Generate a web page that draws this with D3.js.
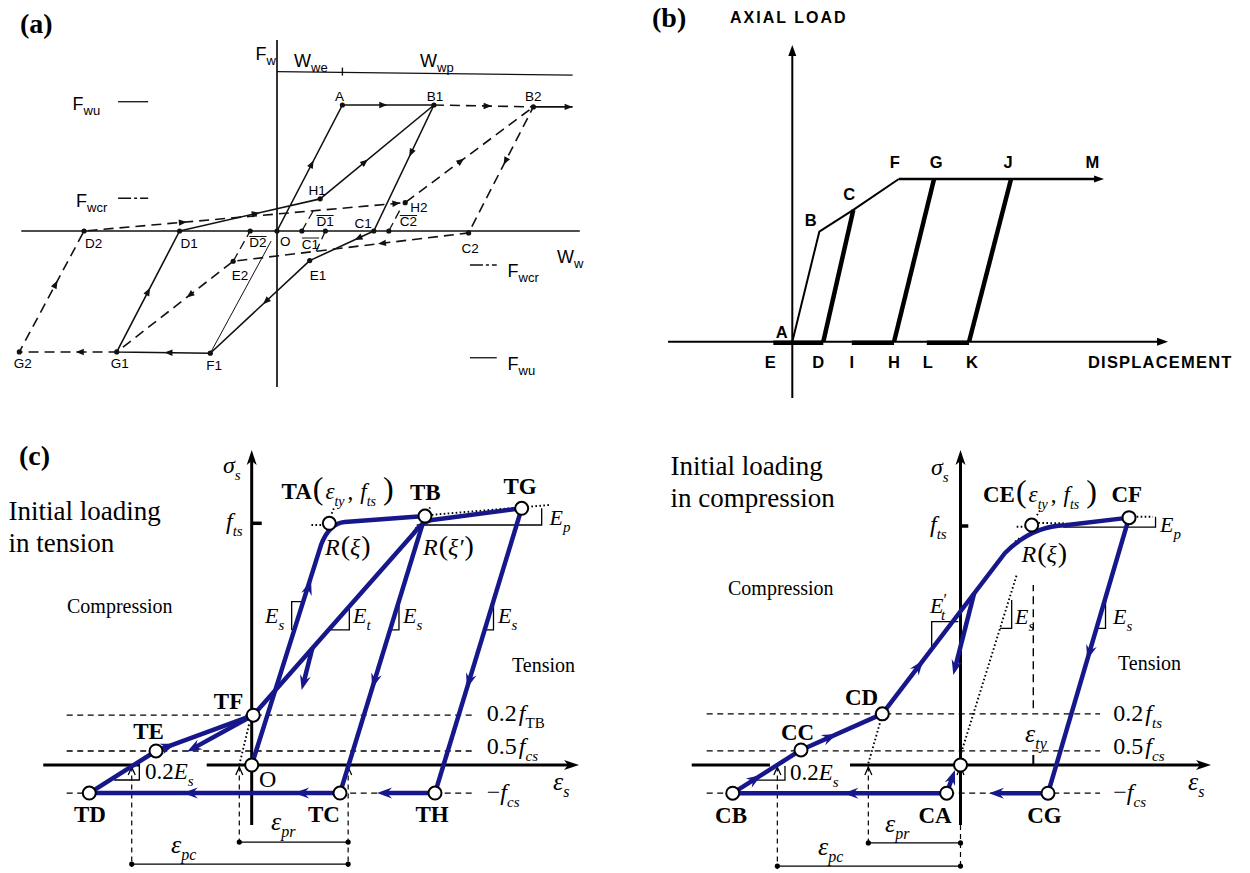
<!DOCTYPE html>
<html>
<head>
<meta charset="utf-8">
<title>Hysteresis models</title>
<script src="https://cdn.jsdelivr.net/npm/d3@7/dist/d3.min.js"></script>
<style>
  html, body { margin: 0; padding: 0; background: #fff; }
  svg { display: block; }
</style>
</head>
<body>
<svg id="fig" width="1250" height="873"></svg>
<script>
// ============ (a) infill wall: F_w vs w_w (w in units of w_we, F in units of F_wu) ============
const wallNodes = [
  { id: "O",  w: 0.00,  F: 0.00 },  { id: "A",  w: 1.00,  F: 1.00 },
  { id: "B1", w: 2.40,  F: 1.00 },  { id: "B2", w: 3.92,  F: 0.985 },
  { id: "C1", w: 1.48,  F: 0.00 },  { id: "C2", w: 2.93,  F: -0.015 },
  { id: "H1", w: 0.66,  F: 0.255 }, { id: "H2", w: 1.96,  F: 0.225 },
  { id: "E1", w: 0.50,  F: -0.235 },{ id: "E2", w: -0.67, F: -0.24 },
  { id: "F1", w: -1.02, F: -0.97 }, { id: "G1", w: -2.45, F: -0.96 },
  { id: "G2", w: -3.94, F: -0.96 }, { id: "D1", w: -1.49, F: 0.00 },
  { id: "D2", w: -2.95, F: 0.00 },  { id: "D2b", w: -0.41, F: 0.00 },
  { id: "C1b", w: 0.38, F: 0.00 },  { id: "D1b", w: 0.74,  F: 0.00 },
  { id: "C2b", w: 1.71, F: 0.00 }
];
const wallCycle1 = ["O", "A", "B1", "C1", "E1", "F1", "G1", "D1", "H1", "B1"];
const wallCycle2 = ["B1", "B2", "C2", "E2", "G1", "G2", "D2", "H2", "B2"];
const wallTip = { w: 4.52, F: 0.985 };
const wallThin = [[{ w: -1.02, F: -0.97 }, { w: -0.09, F: -0.08 }]];
const wallShortDashes = [
  [{ w: -0.67, F: -0.24 }, { w: -0.41, F: 0.00 }],
  [{ w: 0.38, F: 0.00 }, { w: 0.57, F: 0.175 }],
  [{ w: 0.74, F: 0.00 }, { w: 0.60, F: -0.16 }],
  [{ w: 1.71, F: 0.00 }, { w: 1.88, F: 0.167 }]
];
const wallArrows1 = [["O","A",0.56],["A","B1",0.49],["B1","C1",0.41],["C1","E1",0.30],["E1","F1",0.47],
                     ["F1","G1",0.49],["G1","D1",0.53],["D1","H1",0.57],["H1","B1",0.42]];
const wallArrows2 = [["B1","B2",0.58],["B2","C2",0.46],["C2","E2",0.385],["E2","G1",0.40],["G1","G2",0.42],
                     ["G2","D2",0.59],["D2","H2",0.32],["D2","H2",0.985],["H2","B2",0.46]];
const wallLabels = ["A","B1","B2","H1","H2","C1","C2","D1","D2","O","E1","E2","F1","G1","G2"];
const wallBarLabels = [["D1b","D1"],["C1b","C1"],["D2b","D2"],["C2b","C2"]];
const wallLevels = [
  { sub: "wu",  F: 1.026,  side: "left" },
  { sub: "wcr", F: 0.26,   side: "left" },
  { sub: "wcr", F: -0.27,  side: "right" },
  { sub: "wu",  F: -1.006, side: "right" }
];
const wallScaleBar = { w0: 0, w1: 4.52, F0: 1.265, F1: 1.237, tick: 1.0 };

// ============ (b) axial load vs displacement (load in units of the plateau) ============
const tubeNodes = [
  { id: "A", d: 0.00, P: 0.00 }, { id: "B", d: 1.08, P: 0.676 }, { id: "C", d: 2.44, P: 0.81 },
  { id: "F", d: 4.26, P: 1.00 }, { id: "G", d: 5.67, P: 1.00 }, { id: "J", d: 8.75, P: 1.00 },
  { id: "M", d: 12.0, P: 1.00 },
  { id: "E", d: -0.76, P: 0 }, { id: "D", d: 1.24, P: 0 }, { id: "I", d: 2.38, P: 0 },
  { id: "H", d: 4.07, P: 0 },  { id: "L", d: 5.38, P: 0 }, { id: "K", d: 7.07, P: 0 }
];
const tubeEnvelope = ["A", "B", "C", "F", "G", "J", "M"];
const tubeUnloading = [["D", "C"], ["H", "G"], ["K", "J"]];
const tubeSlack = [["E", "D"], ["I", "H"], ["L", "K"]];
const tubeTopLabels = ["A", "B", "C", "F", "G", "J", "M"];
const tubeBottomLabels = ["E", "D", "I", "H", "L", "K"];
const tubeTip = 12.47;

// ============ (c) steel bar: sigma_s vs eps_s (eps in units of eps_ty, sigma in units of f_ts) ============
const tensionNodes = [
  { id: "O",  e: 0.00,   s: 0.00 },  { id: "TA", e: 1.00,  s: 1.00 },
  { id: "TB", e: 2.233,  s: 1.030 }, { id: "TG", e: 3.479, s: 1.062 },
  { id: "TC", e: 1.138,  s: -0.116 },{ id: "TH", e: 2.362, s: -0.116 },
  { id: "TD", e: -2.093, s: -0.116 },{ id: "TE", e: -1.233, s: 0.058 },
  { id: "TF", e: 0.02,   s: 0.206 }
];
const tensionLoading   = [[0, 0], [0.893, 0.910], [1.0, 1.0, "c"], [1.2, 1.005], [2.233, 1.030]];
const tensionReloading = [[0.02, 0.206], [2.092, 0.960], [2.182, 1.003, "c"], [2.323, 1.014], [3.479, 1.062]];
const tensionSegments  = [["TB","TC"], ["TG","TH"], ["TC","TD"], ["TD","TE"], ["TE","TF"]];
const tensionSpurs = [
  [[2.362, -0.116], [1.615, -0.116]],
  [[0.02, 0.206], [-0.834, 0.055]],
  [[0.782, 0.484], [0.644, 0.310]]
];
const tensionArrows = [[[0,0],[1,1],0.765], ["TB","TC",0.622], ["TG","TH",0.632], ["TE","TF",0.2],
                       ["TC","TD",0.183], ["TC","TD",0.627]];
const tensionLevels = [0.206, 0.058, -0.116];
const tensionDotted = [
  [[0.77, 0.993], [0.92, 0.993]], [[1.03, 1.04], [1.06, 1.062]],
  [[2.32, 1.035], [3.844, 1.076]], [[2.27, 1.045], [2.31, 1.075]],
  [[2.05, 0.95], [2.14, 0.99]], [[-0.16, 0.0], [-0.031, 0.172]]
];
const tensionSlopes = [
  [[0.644, 0.676], [0.515, 0.676], [0.515, 0.559]],
  [[1.258, 0.662], [1.258, 0.559], [0.987, 0.559]],
  [[1.898, 0.671], [1.898, 0.559], [1.789, 0.559]],
  [[3.116, 0.671], [3.116, 0.559], [3.007, 0.559]],
  [[-1.773, -0.062], [-1.448, -0.062], [-1.448, -0.004]],
  [[2.126, 0.993], [3.737, 0.993], [3.737, 1.062]]
];
const tensionPlastic = { pr: [-0.160, 1.243], pc: [-1.546, 1.243] };

const compressionNodes = [
  { id: "O",  e: 0.00,   s: 0.00 },  { id: "CE", e: 0.978,  s: 1.004 },
  { id: "CF", e: 2.315,  s: 1.035 }, { id: "CG", e: 1.202,  s: -0.118 },
  { id: "CA", e: -0.190, s: -0.118 },{ id: "CB", e: -3.129, s: -0.118 },
  { id: "CC", e: -2.191, s: 0.063 }, { id: "CD", e: -1.074, s: 0.214 }
];
const compressionLoading = [[-1.074, 0.214], [0.611, 0.887], [0.982, 1.0, "c"], [1.435, 1.003], [2.315, 1.035]];
const compressionSegments = [["CF","CG"], ["CA","CB"], ["CB","CC"], ["CC","CD"]];
const compressionSpurs = [
  [[-0.190, -0.118], [-0.076, -0.021]],
  [[1.202, -0.118], [0.391, -0.118]],
  [[0.187, 0.718], [-0.099, 0.377]]
];
const compressionArrows = [["CB","CC",0.42], ["CC","CD",0.44], [[-1.074,0.214],[0.611,0.887],0.334],
                           ["CF","CG",0.516], ["CA","CB",0.483]];
const compressionLevels = [0.214, 0.059, -0.118];
const compressionDotted = [
  [[-0.007, 0.035], [0.772, 0.795]], [[-1.266, 0.007], [-1.082, 0.202]],
  [[0.772, 0.997], [0.89, 0.997]],   [[1.07, 1.013], [1.459, 1.011]],
  [[2.42, 1.039], [2.644, 1.039]],   [[0.749, 0.934], [0.817, 0.950]],
  [[1.05, 1.045], [1.09, 1.065]]
];
const compressionSlopes = [
  [[-0.030, 0.600], [-0.396, 0.600], [-0.396, 0.488]],
  [[0.703, 0.690], [0.703, 0.572], [0.543, 0.572]],
  [[1.992, 0.690], [1.992, 0.572], [1.875, 0.572]],
  [[-2.823, -0.063], [-2.411, -0.063], [-2.411, -0.004]],
  [[1.412, 0.995], [2.679, 0.995], [2.679, 1.039]]
];
const compressionPlastic = { pr: [-1.266, 0.0], pc: [-2.516, 0.0] };
const compressionYield = 1.0;

// ---------------------------------------------------------------------------------------
const SERIF = "'Liberation Serif','Times New Roman',Times,serif";
const SANS = "'Liberation Sans',Arial,Helvetica,sans-serif";
const NAVY = "#17178c";
const svg = d3.select("#fig");
const lineGen = d3.line();

const TRI = "M0,0 L-8,-3.2 L-8,3.2 Z";
const STEALTH = "M0,0 L-15,-5.5 L-10,0 L-15,5.5 Z";
const AXHEAD = "M0,0 L-15,-5 L-11,0 L-15,5 Z";
const FILLHEAD = "M0,0 L-11,-4 L-11,4 Z";
const CHEV = "M-8,-3.5 L0,0 L-8,3.5";

function poly(g, pts, attrs) {
  const p = g.append("path").attr("d", lineGen(pts)).attr("fill", "none");
  Object.entries(attrs).forEach(([k, v]) => p.attr(k, v));
  return p;
}
function head(g, x, y, ang, shape, fill, stroke) {
  const p = g.append("path").attr("d", shape)
    .attr("transform", `translate(${x},${y}) rotate(${ang})`);
  if (stroke) p.attr("fill", "none").attr("stroke", stroke).attr("stroke-width", 1.3);
  else p.attr("fill", fill);
  return p;
}
function headOn(g, p1, p2, t, shape, fill) {
  const x = p1[0] + (p2[0] - p1[0]) * t, y = p1[1] + (p2[1] - p1[1]) * t;
  const ang = Math.atan2(p2[1] - p1[1], p2[0] - p1[0]) * 180 / Math.PI;
  return head(g, x, y, ang, shape, fill);
}
function rich(g, x, y, parts, o = {}) {
  const size = o.size || 20;
  const t = g.append("text").attr("x", x).attr("y", y)
    .attr("font-family", o.family || SERIF).attr("font-size", size)
    .attr("text-anchor", o.anchor || "start").attr("fill", "#000");
  if (o.weight) t.attr("font-weight", o.weight);
  if (o.spacing) t.attr("letter-spacing", o.spacing);
  let off = 0;
  parts.forEach(p => {
    if (typeof p === "string") p = { t: p };
    const s = t.append("tspan").text(p.t);
    const target = p.sub ? Math.round(size * (o.subDrop || 0.3)) : p.sup ? -Math.round(size * 0.38) : 0;
    if (target !== off) { s.attr("dy", target - off); off = target; }
    if (p.sub || p.sup) s.attr("font-size", p.size || Math.round(size * 0.66));
    else if (p.size) s.attr("font-size", p.size);
    if (p.i) s.attr("font-style", "italic");
    if (p.b) s.attr("font-weight", "bold");
    if (p.dx) s.attr("dx", p.dx);
  });
  return t;
}
function bentPath(pts, sx, sy) {
  const p = d3.path();
  let ctrl = null;
  pts.forEach((d, i) => {
    const x = sx(d[0]), y = sy(d[1]);
    if (i === 0) p.moveTo(x, y);
    else if (d[2] === "c") ctrl = [x, y];
    else if (ctrl) { p.quadraticCurveTo(ctrl[0], ctrl[1], x, y); ctrl = null; }
    else p.lineTo(x, y);
  });
  return p.toString();
}

// ================================ panel (a) ================================
{
  const x = d3.scaleLinear().domain([0, 1]).range([277, 342.4]);
  const y = d3.scaleLinear().domain([0, 1]).range([231, 105]);
  const g = svg.append("g");
  const N = Object.fromEntries(wallNodes.map(d => [d.id, [x(d.w), y(d.F)]]));
  const P = d => [x(d.w), y(d.F)];
  const ink = "#111";

  rich(g, 20, 33, [{ t: "(a)" }], { size: 28, weight: "bold" });

  // axes
  poly(g, [[x(-3.91), y(0)], [x(4.63), y(0)]], { stroke: ink, "stroke-width": 1.7 });
  poly(g, [[x(0), y(-1.238)], [x(0), y(1.516)]], { stroke: ink, "stroke-width": 1.7 });
  // displacement scale bar
  poly(g, [[x(wallScaleBar.w0), y(wallScaleBar.F0)], [x(wallScaleBar.w1), y(wallScaleBar.F1)]], { stroke: ink, "stroke-width": 1.4 });
  poly(g, [[x(wallScaleBar.tick), y(wallScaleBar.F0) - 4], [x(wallScaleBar.tick), y(wallScaleBar.F0) + 4]], { stroke: ink, "stroke-width": 1.4 });

  const sf = { family: SANS, size: 18, subDrop: 0.28 };
  rich(g, 255.5, 60, [{ t: "F" }, { t: "w", sub: true, size: 13 }], sf);
  rich(g, 294, 66.5, [{ t: "W" }, { t: "we", sub: true, size: 13 }], sf);
  rich(g, 420, 66.5, [{ t: "W" }, { t: "wp", sub: true, size: 13 }], sf);
  rich(g, 557, 263, [{ t: "W" }, { t: "w", sub: true, size: 13 }], sf);

  // force levels
  wallLevels.forEach(L => {
    const yy = y(L.F);
    const dash = L.sub === "wu" ? null : "13,3,3,3";
    if (L.side === "left") {
      const p = poly(g, [[x(-2.43), yy], [x(-1.97), yy]], { stroke: ink, "stroke-width": 1.3 });
      if (dash) p.attr("stroke-dasharray", dash);
      rich(g, L.sub === "wu" ? 72.5 : 76, yy + 8.5, [{ t: "F" }, { t: L.sub, sub: true, size: 13 }], sf);
    } else {
      const p = poly(g, [[x(2.95), yy], [x(3.36), yy]], { stroke: ink, "stroke-width": 1.3 });
      if (dash) p.attr("stroke-dasharray", dash);
      rich(g, 507.5, yy + 12, [{ t: "F" }, { t: L.sub, sub: true, size: 13 }], sf);
    }
  });

  // first cycle (solid) and second cycle (dashed)
  poly(g, wallCycle1.map(id => N[id]), { stroke: ink, "stroke-width": 1.6, "stroke-linejoin": "round" });
  poly(g, wallCycle2.map(id => N[id]), { stroke: ink, "stroke-width": 1.6, "stroke-dasharray": "10,6" });
  poly(g, [N.B2, P(wallTip)], { stroke: ink, "stroke-width": 1.6 });
  head(g, x(wallTip.w), y(wallTip.F), 0, TRI, ink);
  wallThin.forEach(s => poly(g, s.map(P), { stroke: ink, "stroke-width": 1.0 }));
  wallShortDashes.forEach(s => poly(g, s.map(P), { stroke: ink, "stroke-width": 1.3, "stroke-dasharray": "9,5" }));
  wallArrows1.concat(wallArrows2).forEach(([a, b, t]) => headOn(g, N[a], N[b], t, TRI, ink));

  // node dots
  wallNodes.forEach(d => g.append("circle").attr("cx", x(d.w)).attr("cy", y(d.F)).attr("r", 2.6).attr("fill", ink));

  // node labels
  const off = { A: [-3, -4, "middle"], B1: [1, -4, "middle"], B2: [0, -6, "middle"], H1: [-3, -4, "middle"],
    H2: [5, 9.5, "start"], C1: [-2, -3, "end"], C2: [-7, 20, "start"], D1: [1, 16.5, "start"],
    D2: [1, 16.5, "start"], O: [3, 15, "start"], E1: [0, 19.5, "start"], E2: [-1.5, 19, "start"],
    F1: [-4, 17, "start"], G1: [-6, 16, "start"], G2: [-5.5, 16, "start"] };
  wallLabels.forEach(id => {
    const [dx, dy, a] = off[id];
    rich(g, N[id][0] + dx, N[id][1] + dy, [id], { family: SANS, size: 13.5, anchor: a });
  });
  const barOff = { D1b: [-9, -5], C1b: [0, 17.5], D2b: [-1, 16], C2b: [11, -5] };
  wallBarLabels.forEach(([id, txt]) => {
    const [dx, dy] = barOff[id];
    const t = rich(g, N[id][0] + dx, N[id][1] + dy, [txt], { family: SANS, size: 13.5 });
    const bb = t.node().getBBox();
    poly(g, [[bb.x, bb.y + 1.5], [bb.x + bb.width, bb.y + 1.5]], { stroke: ink, "stroke-width": 1 });
  });
}

// ================================ panel (b) ================================
{
  const x = d3.scaleLinear().domain([0, 1]).range([792.3, 817.3]);
  const y = d3.scaleLinear().domain([0, 1]).range([341.7, 179]);
  const g = svg.append("g");
  const N = Object.fromEntries(tubeNodes.map(d => [d.id, [x(d.d), y(d.P)]]));
  const ink = "#000";

  rich(g, 652, 27, [{ t: "(b)" }], { size: 28, weight: "bold" });
  rich(g, 730, 23, ["AXIAL LOAD"], { family: SANS, size: 16, weight: "bold", spacing: 2 });
  rich(g, 1088, 368, ["DISPLACEMENT"], { family: SANS, size: 16.5, weight: "bold", spacing: 1.2 });

  poly(g, [[x(-4.97), y(0)], [x(15.03) - 8, y(0)]], { stroke: ink, "stroke-width": 2 });
  head(g, x(15.03), y(0), 0, FILLHEAD, ink);
  poly(g, [[x(0), y(-0.346)], [x(0), y(1.824) + 8]], { stroke: ink, "stroke-width": 2 });
  head(g, x(0), y(1.824), -90, FILLHEAD, ink);

  poly(g, tubeEnvelope.slice(0, 4).map(id => N[id]), { stroke: ink, "stroke-width": 2, "stroke-linejoin": "round" });
  poly(g, [N.F, [x(tubeTip) - 6, y(1)]], { stroke: ink, "stroke-width": 2.6 });
  head(g, x(tubeTip), y(1), 0, "M0,0 L-10,-3.5 L-10,3.5 Z", ink);
  tubeUnloading.forEach(([a, b]) => poly(g, [N[a], N[b]], { stroke: ink, "stroke-width": 4.5 }));
  tubeSlack.forEach(([a, b]) => poly(g, [[N[a][0], N[a][1] + 1], [N[b][0], N[b][1] + 1]], { stroke: ink, "stroke-width": 4.5 }));

  const top = { A: [-10.5, -4], B: [-8.5, -6], C: [-4, -10], F: [-4, -11.5], G: [2, -11.5], J: [-3, -11.5], M: [0, -11.5] };
  tubeTopLabels.forEach(id => rich(g, N[id][0] + top[id][0], N[id][1] + top[id][1], [id],
    { family: SANS, size: 16.5, weight: "bold", anchor: "middle" }));
  const bot = { E: -3, D: -5, I: 0, H: 0, L: 1, K: 3 };
  tubeBottomLabels.forEach(id => rich(g, N[id][0] + bot[id], N[id][1] + 26.5, [id],
    { family: SANS, size: 16.5, weight: "bold", anchor: "middle" }));
}

// ========================= shared drawing for (c) ==========================
function steelPanel(cfg) {
  const { x, y, g, nodes } = cfg;
  const N = Object.fromEntries(nodes.map(d => [d.id, [x(d.e), y(d.s)]]));
  const P = d => [x(d[0]), y(d[1])];
  const pt = d => (typeof d === "string" ? N[d] : P(d));

  // level lines
  cfg.levels.forEach(s => poly(g, [[x(cfg.levelSpan[0]), y(s)], [x(cfg.levelSpan[1]), y(s)]],
    { stroke: "#000", "stroke-width": 1.3, "stroke-dasharray": "6,4.5" }));

  // plastic strain dimensions
  const dimTop = -0.006;
  const pr = cfg.plastic.pr, pc = cfg.plastic.pc;
  const verts = [[pc[0], cfg.dimY[1] - 0.012], [pr[0], cfg.dimY[0] - 0.012], [pr[1], cfg.dimY[1] - 0.012]];
  verts.forEach(([e, sLow]) => {
    const top = e === 0 ? cfg.axisV[0] : dimTop;
    poly(g, [[x(e), y(top)], [x(e), y(sLow)]], { stroke: "#000", "stroke-width": 1.2, "stroke-dasharray": "5,4" });
  });
  cfg.chevrons.forEach(e => head(g, x(e), y(0) + 2, -90, CHEV, null, "#000"));
  [[pr, cfg.dimY[0]], [pc, cfg.dimY[1]]].forEach(([r, s]) => {
    poly(g, [[x(r[0]), y(s)], [x(r[1]), y(s)]], { stroke: "#000", "stroke-width": 1.4 });
    r.forEach(e => g.append("circle").attr("cx", x(e)).attr("cy", y(s)).attr("r", 2.6).attr("fill", "#000"));
  });

  // axes
  cfg.axisH.forEach(([a, b], i) => poly(g, [[x(a), y(0)], [x(b) - (i === cfg.axisH.length - 1 ? 6 : 0), y(0)]],
    { stroke: "#000", "stroke-width": 3 }));
  head(g, x(cfg.axisH[cfg.axisH.length - 1][1]), y(0), 0, AXHEAD, "#000");
  poly(g, [[x(0), y(cfg.axisV[0])], [x(0), y(cfg.axisV[1]) + 6]], { stroke: "#000", "stroke-width": 3 });
  head(g, x(0), y(cfg.axisV[1]), -90, AXHEAD, "#000");
  poly(g, [[x(0), y(1)], [x(cfg.tick), y(1)]], { stroke: "#000", "stroke-width": 3.5 });

  // dotted construction lines and slope brackets
  cfg.dotted.forEach(s => poly(g, s.map(P), { stroke: "#000", "stroke-width": 1.9, "stroke-dasharray": "1.6,2.4" }));
  cfg.slopes.forEach(s => poly(g, s.map(P), { stroke: "#000", "stroke-width": 1.3 }));
  if (cfg.extra) cfg.extra(P);

  // stress-strain path
  const blue = { stroke: NAVY, "stroke-width": 4.5, "stroke-linejoin": "round", "stroke-linecap": "butt" };
  cfg.curves.forEach(c => g.append("path").attr("d", bentPath(c, x, y)).attr("fill", "none")
    .attr("stroke", NAVY).attr("stroke-width", 4.5).attr("stroke-linejoin", "round"));
  cfg.segments.forEach(([a, b]) => poly(g, [N[a], N[b]], blue));
  cfg.spurs.forEach(s => {
    const a = P(s[0]), b = P(s[1]);
    const L = Math.hypot(b[0] - a[0], b[1] - a[1]);
    const k = (L - 8) / L;
    poly(g, [a, [a[0] + (b[0] - a[0]) * k, a[1] + (b[1] - a[1]) * k]], blue);
    headOn(g, a, b, 1, STEALTH, NAVY);
  });
  cfg.arrows.forEach(([a, b, t]) => headOn(g, pt(a), pt(b), t, STEALTH, NAVY));

  // state points
  nodes.forEach(d => g.append("circle").attr("cx", x(d.e)).attr("cy", y(d.s)).attr("r", 6.5)
    .attr("fill", "#fff").attr("stroke", "#000").attr("stroke-width", 2));
  return N;
}

const bold = (g, xx, yy, t, a) => rich(g, xx, yy, [t], { size: 23, weight: "bold", anchor: a || "middle" });
const eps = sub => [{ t: "ε", i: true, size: 26 }, { t: sub, sub: true, i: true, size: 16 }];

// ================================ panel (c), left ================================
{
  const x = d3.scaleLinear().domain([0, 1]).range([251.7, 329.3]);
  const y = d3.scaleLinear().domain([0, 1]).range([765, 523.3]);
  const g = svg.append("g");
  steelPanel({
    x, y, g, nodes: tensionNodes,
    levels: tensionLevels, levelSpan: [-2.384, 2.856],
    plastic: tensionPlastic, dimY: [-0.319, -0.410], chevrons: [-1.546, -0.160, 1.243],
    axisH: [[-2.686, -1.439], [-0.580, 4.218]], axisV: [-0.248, 1.303], tick: 0.129,
    dotted: tensionDotted, slopes: tensionSlopes,
    curves: [tensionLoading, tensionReloading], segments: tensionSegments,
    spurs: tensionSpurs, arrows: tensionArrows
  });

  rich(g, 19, 465, [{ t: "(c)" }], { size: 28, weight: "bold" });
  rich(g, 8.5, 520, ["Initial loading"], { size: 27 });
  rich(g, 8.5, 552, ["in tension"], { size: 27 });
  rich(g, 67, 612.5, ["Compression"], { size: 20 });
  rich(g, 512, 671.5, ["Tension"], { size: 20 });
  rich(g, 223, 473, [{ t: "σ", i: true }, { t: "s", sub: true, i: true, size: 15 }], { size: 24 });
  rich(g, 226, 529, [{ t: "f", i: true }, { t: "ts", sub: true, i: true, size: 15 }], { size: 24 });

  rich(g, 281.5, 498.5, [{ t: "TA", b: true }, { t: "(", size: 32, dx: 1 }, { t: "ε", i: true, dx: 2 },
    { t: "ty", sub: true, i: true, size: 14 }, { t: ",", dx: 3 }, { t: "f", i: true, dx: 7 },
    { t: "ts", sub: true, i: true, size: 14 }, { t: ")", size: 32, dx: 7 }], { size: 23 });
  bold(g, 410, 500, "TB", "start");
  bold(g, 503.5, 493.5, "TG", "start");
  rich(g, 325, 555, [{ t: "R", i: true }, { t: "(", size: 28, dx: 1 }, { t: "ξ", i: true }, { t: ")", size: 28, dx: 1 }], { size: 24 });
  rich(g, 423, 555, [{ t: "R", i: true }, { t: "(", size: 28, dx: 1 }, { t: "ξ′", i: true }, { t: ")", size: 28, dx: 1 }], { size: 24 });
  rich(g, 549.5, 525, [{ t: "E", i: true }, { t: "p", sub: true, i: true, size: 15 }], { size: 22 });

  [[265, "s"], [353, "t"], [403, "s"], [498, "s"]].forEach(([xx, s]) =>
    rich(g, xx, 623, [{ t: "E", i: true }, { t: s, sub: true, i: true, size: 15 }], { size: 22 }));

  bold(g, 228.5, 708.5, "TF");
  bold(g, 148.5, 738.5, "TE");
  rich(g, 145, 779, ["0.2", { t: "E", i: true }, { t: "s", sub: true, i: true, size: 15 }], { size: 23 });
  rich(g, 259, 787, ["O"], { size: 24 });
  bold(g, 90, 822, "TD");
  bold(g, 324, 822, "TC");
  bold(g, 432, 822, "TH");

  const lx = x(3.03);
  rich(g, lx, 721, ["0.2", { t: "f", i: true, dx: 2 }, { t: "TB", sub: true, size: 15 }], { size: 24 });
  rich(g, lx, 754, ["0.5", { t: "f", i: true, dx: 2 }, { t: "cs", sub: true, i: true, size: 15 }], { size: 24 });
  rich(g, lx, 800, ["−", { t: "f", i: true }, { t: "cs", sub: true, i: true, size: 15 }], { size: 24 });
  rich(g, 553, 790, eps("s"), { size: 24 });
  rich(g, 271, 830, eps("pr"), { size: 24 });
  rich(g, 171, 853, eps("pc"), { size: 24 });
}

// ================================ panel (c), right ================================
{
  const x = d3.scaleLinear().domain([0, 1]).range([960.5, 1033.3]);
  const y = d3.scaleLinear().domain([0, 1]).range([765, 526]);
  const g = svg.append("g");
  steelPanel({
    x, y, g, nodes: compressionNodes,
    levels: compressionLevels, levelSpan: [-3.486, 1.916],
    plastic: compressionPlastic, dimY: [-0.326, -0.423], chevrons: [-2.516, -1.266, 0],
    axisH: [[-3.692, -2.617], [-1.518, 3.441]], axisV: [-0.251, 1.318], tick: 0.107,
    dotted: compressionDotted, slopes: compressionSlopes,
    curves: [compressionLoading], segments: compressionSegments,
    spurs: compressionSpurs, arrows: compressionArrows,
    extra: P => {
      poly(g, [P([compressionYield, 0.237]), P([compressionYield, 0.753])],
        { stroke: "#000", "stroke-width": 1.4, "stroke-dasharray": "8,5" });
      poly(g, [P([compressionYield, 0]), P([compressionYield, 0.042])], { stroke: "#000", "stroke-width": 2 });
    }
  });

  rich(g, 670.5, 475, ["Initial loading"], { size: 27 });
  rich(g, 670.5, 507, ["in compression"], { size: 27 });
  rich(g, 728, 595, ["Compression"], { size: 20 });
  rich(g, 1118, 670, ["Tension"], { size: 20 });
  rich(g, 931, 475, [{ t: "σ", i: true }, { t: "s", sub: true, i: true, size: 15 }], { size: 24 });
  rich(g, 930, 532, [{ t: "f", i: true }, { t: "ts", sub: true, i: true, size: 15 }], { size: 24 });

  rich(g, 983, 502, [{ t: "CE", b: true }, { t: "(", size: 32, dx: 1 }, { t: "ε", i: true, dx: 2 },
    { t: "ty", sub: true, i: true, size: 14 }, { t: ",", dx: 3 }, { t: "f", i: true, dx: 7 },
    { t: "ts", sub: true, i: true, size: 14 }, { t: ")", size: 32, dx: 7 }], { size: 23 });
  bold(g, 1111.5, 502, "CF", "start");
  rich(g, 1160, 532, [{ t: "E", i: true }, { t: "p", sub: true, i: true, size: 15 }], { size: 22 });
  rich(g, 1021.5, 562, [{ t: "R", i: true }, { t: "(", size: 28, dx: 1 }, { t: "ξ", i: true }, { t: ")", size: 28, dx: 1 }], { size: 24 });
  rich(g, 930, 613, [{ t: "E", i: true }, { t: "′", sup: true, size: 16 }, { t: "t", sub: true, i: true, size: 15, dx: -6 }], { size: 22 });
  rich(g, 1015, 623.5, [{ t: "E", i: true }, { t: "s", sub: true, i: true, size: 15 }], { size: 22 });
  rich(g, 1113, 623.5, [{ t: "E", i: true }, { t: "s", sub: true, i: true, size: 15 }], { size: 22 });

  bold(g, 861.5, 705, "CD");
  bold(g, 797.5, 740, "CC");
  rich(g, 1036, 742, eps("ty"), { size: 24, anchor: "middle" });
  rich(g, 790, 779.5, ["0.2", { t: "E", i: true }, { t: "s", sub: true, i: true, size: 15 }], { size: 23 });
  bold(g, 731, 823, "CB");
  bold(g, 935, 823, "CA");
  bold(g, 1044.5, 823, "CG");

  const lx = x(2.099);
  rich(g, lx, 721, ["0.2", { t: "f", i: true, dx: 2 }, { t: "ts", sub: true, i: true, size: 15 }], { size: 24 });
  rich(g, lx, 754, ["0.5", { t: "f", i: true, dx: 2 }, { t: "cs", sub: true, i: true, size: 15 }], { size: 24 });
  rich(g, lx, 800, ["−", { t: "f", i: true }, { t: "cs", sub: true, i: true, size: 15 }], { size: 24 });
  rich(g, 1188, 790, eps("s"), { size: 24 });
  rich(g, 885, 832, eps("pr"), { size: 24 });
  rich(g, 818, 855, eps("pc"), { size: 24 });
}
</script>
</body>
</html>
